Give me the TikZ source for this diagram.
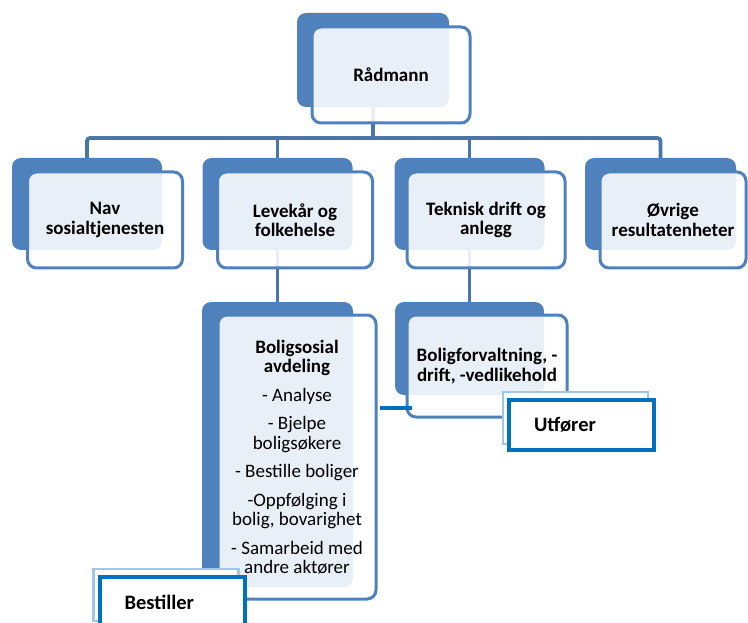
\documentclass[tikz,border=0pt]{standalone}
\usepackage{fontspec}
\setmainfont{Carlito}
\usetikzlibrary{backgrounds}
\definecolor{boxblue}{RGB}{79,129,189}
\definecolor{lineblue}{RGB}{72,117,170}
\definecolor{tagblue}{RGB}{0,112,192}
\definecolor{tagpale}{RGB}{163,198,232}
\newcommand{\boxfont}{\fontsize{19}{19.5}\selectfont}
\tikzset{
  backbox/.style={fill=boxblue, rounded corners=9pt, minimum width=150, minimum height=92},
  frontbox/.style={draw=boxblue, line width=3pt, fill=white, fill opacity=0.88, text opacity=1,
    rounded corners=9pt, minimum width=155, minimum height=96, align=center, font=\boxfont\bfseries},
  orgline/.style={draw=lineblue, line width=3.8pt, rounded corners=3pt},
  linkline/.style={draw=tagblue, line width=4pt},
  tagshadow/.style={draw=tagpale, line width=2.5pt, fill=white, minimum width=145, minimum height=52},
  tagbox/.style={draw=tagblue, line width=4pt, fill=white, inner xsep=25pt, text width=95pt,
    minimum height=50, align=left, font=\fontsize{20.5}{22}\selectfont\bfseries}
}

\begin{document}
\begin{tikzpicture}[x=1pt,y=-1pt]
  \useasboundingbox (0,0) rectangle (748,623);
  % top
  \node[backbox, minimum width=152, minimum height=94] (radmannb) at (373,60) {};
  \node[frontbox, minimum width=158] (radmann) at (391,75) {Rådmann};
  % second row
  \node[backbox] (navb) at (87,204) {};
  \node[frontbox] (nav) at (105,220) {Nav\\sosialtjenesten};
  \node[backbox] (levekarb) at (277.5,204) {};
  \node[frontbox] (levekar) at (295,220) {Levekår og\\folkehelse};
  \node[backbox] (teknikb) at (469.5,204) {};
  \node[frontbox, minimum width=158] (teknik) at (486,220) {Teknisk drift og\\anlegg};
  \node[backbox, minimum width=151] (ovrigeb) at (660.5,204) {};
  \node[frontbox, minimum width=146] (ovrige) at (673,220) {Øvrige\\resultatenheter};
  % third row
  \node[backbox, minimum width=151, minimum height=285] (boligsosialb) at (277.5,444.5) {};
  \node[frontbox, minimum width=158, minimum height=284, font=\boxfont] (boligsosial) at (297,457) {%
    \textbf{Boligsosial}\\\textbf{avdeling}\\[9pt]
    - Analyse\\[9pt]
    - Bjelpe\\boligsøkere\\[9pt]
    - Bestille boliger\\[9pt]
    -Oppfølging i\\bolig, bovarighet\\[9pt]
    - Samarbeid med\\andre aktører};
  \node[backbox, minimum width=149, minimum height=93] (boligforvb) at (469.5,348.5) {};
  \node[frontbox, minimum width=160, minimum height=102] (boligforv) at (487,366) {Boligforvaltning, -\\drift, -vedlikehold};
  % connectors
  \begin{scope}[on background layer]
    \coordinate (bus) at (0,138);
    \draw[orgline] (radmannb.south) -- (radmannb |- bus);
    \draw[orgline] (navb.north) -- (navb |- bus) -- (ovrigeb |- bus) -- (ovrigeb.north);
    \foreach \n in {levekarb,teknikb}
      \draw[orgline] (\n |- bus) -- (\n.north);
    \draw[orgline] (levekarb.south) -- (boligsosialb.north);
    \draw[orgline] (teknikb.south) -- (boligforvb.north);
  \end{scope}
  \coordinate (lk) at (380,408);
  \draw[linkline] (lk) -- ([xshift=6pt]boligforv.west |- lk);
  % roles
  \node[tagshadow] (utforers) at (575.5,418) {};
  \node[tagbox] (utforer) at ([shift={(6,7)}]utforers) {Utfører};
  \node[tagshadow] (bestillers) at (166,595) {};
  \node[tagbox] (bestiller) at ([shift={(6,7)}]bestillers) {Bestiller};
\end{tikzpicture}
\end{document}
